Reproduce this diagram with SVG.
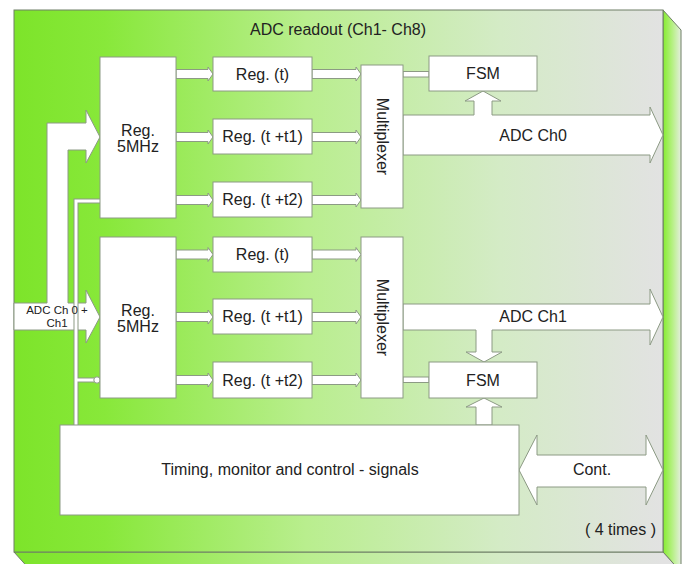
<svg xmlns="http://www.w3.org/2000/svg" width="688" height="564" viewBox="0 0 688 564">
<defs>
<linearGradient id="front" x1="14" y1="0" x2="663" y2="0" gradientUnits="userSpaceOnUse">
<stop offset="0" stop-color="#7de42a"/>
<stop offset="0.14" stop-color="#88e83a"/>
<stop offset="0.45" stop-color="#b9ee8e"/>
<stop offset="0.75" stop-color="#d4ebc6"/>
<stop offset="1" stop-color="#e2e2e2"/>
</linearGradient>
<linearGradient id="side" x1="663" y1="0" x2="681" y2="0" gradientUnits="userSpaceOnUse">
<stop offset="0" stop-color="#86ec30"/>
<stop offset="0.5" stop-color="#b4f080"/>
<stop offset="1" stop-color="#e4eede"/>
</linearGradient>
<style>
.box{fill:#ffffff;stroke:#8c9a84;stroke-width:1}
.band{fill:#ffffff;stroke:#8c9a84;stroke-width:1}
.t{font-family:"Liberation Sans",Arial,sans-serif;font-size:16px;fill:#222222;text-anchor:middle}
.s{font-family:"Liberation Sans",Arial,sans-serif;font-size:11.5px;fill:#222222;text-anchor:middle}
.wireo{fill:none;stroke:#8c9a84;stroke-width:5}
.wirei{fill:none;stroke:#ffffff;stroke-width:3}
</style>
</defs>
<g id="frame">
<polygon points="663,10 681,30 681,572 663,552" fill="url(#side)" stroke="#6f7f66" stroke-width="1"/>
<polygon points="14,552 663,552 681,572 32,572" fill="url(#front)" stroke="#6f7f66" stroke-width="1"/>
<rect x="14" y="10" width="649" height="542" fill="url(#front)" stroke="#6f7f66" stroke-width="1"/>
<text class="t" x="338" y="35">ADC readout (Ch1- Ch8)</text>
<text class="t" x="656" y="535" style="text-anchor:end">( 4 times )</text>
</g>
<g id="connectors">
<path class="band" d="M14,303 H47 V123 H86 V110 L100,137 L86,163 V150 H68 V303 H86 V290 L100,317 L86,343 V330 H14 Z"/>
<path class="wireo" d="M76,425 V201 H100 M76,380 H96"/>
<path class="wirei" d="M76,426 V201 H100 M76,380 H96"/>
<circle cx="97" cy="380" r="3.2" fill="#ffffff" stroke="#8c9a84" stroke-width="1"/>
<path class="band" d="M176,69.5 H208 V67 L213,74 L208,81 V78.5 H176 Z"/>
<path class="band" d="M176,132.5 H208 V130 L213,137 L208,144 V141.5 H176 Z"/>
<path class="band" d="M176,195.5 H208 V193 L213,200 L208,207 V204.5 H176 Z"/>
<path class="band" d="M176,250 H208 V247.5 L213,254.5 L208,261.5 V259 H176 Z"/>
<path class="band" d="M176,312.5 H208 V310 L213,317 L208,324 V321.5 H176 Z"/>
<path class="band" d="M176,375.5 H208 V373 L213,380 L208,387 V384.5 H176 Z"/>
<path class="band" d="M312,69.5 H356 V67 L361,74 L356,81 V78.5 H312 Z"/>
<path class="band" d="M312,132.5 H356 V130 L361,137 L356,144 V141.5 H312 Z"/>
<path class="band" d="M312,195.5 H356 V193 L361,200 L356,207 V204.5 H312 Z"/>
<path class="band" d="M312,250 H356 V247.5 L361,254.5 L356,261.5 V259 H312 Z"/>
<path class="band" d="M312,312.5 H356 V310 L361,317 L356,324 V321.5 H312 Z"/>
<path class="band" d="M312,375.5 H356 V373 L361,380 L356,387 V384.5 H312 Z"/>
<rect class="band" x="403" y="71.5" width="26" height="5.5"/>
<rect class="band" x="403" y="377" width="26" height="5.5"/>
<path class="band" d="M403,115 H474 V101 H465 L483,91 L501,101 H492 V115 H650 V107 L663,135 L650,163 V155 H403 Z"/>
<path class="band" d="M403,304 H650 V289 L663,317 L650,345 V330 H492 V352 H502 L484,362 L466,352 H476 V330 H403 Z"/>
<path class="band" d="M476,425 V407 H466 L484,398 L502,407 H492 V425 Z"/>
<path class="band" d="M519,470 L537,435 V455 H646 V435 L663,470 L646,505 V487 H537 V505 Z"/>
<text class="t" x="533" y="141">ADC Ch0</text>
<text class="t" x="533" y="322">ADC Ch1</text>
<text class="t" x="592" y="475">Cont.</text>
<text class="s" x="57" y="314">ADC Ch 0 +</text>
<text class="s" x="57" y="327">Ch1</text>
</g>
<g id="reg5a"><rect class="box" x="100" y="57" width="76" height="161"/><text class="t" x="138" y="136">Reg.</text><text class="t" x="138" y="152">5MHz</text></g>
<g id="reg5b"><rect class="box" x="100" y="237" width="76" height="161"/><text class="t" x="138" y="316">Reg.</text><text class="t" x="138" y="332">5MHz</text></g>
<g id="reg_a_t"><rect class="box" x="213" y="57" width="99" height="34"/><text class="t" x="262.5" y="79.5">Reg. (t)</text></g>
<g id="reg_a_t1"><rect class="box" x="213" y="119" width="99" height="35"/><text class="t" x="262.5" y="142">Reg. (t +t1)</text></g>
<g id="reg_a_t2"><rect class="box" x="213" y="182" width="99" height="35"/><text class="t" x="262.5" y="205">Reg. (t +t2)</text></g>
<g id="reg_b_t"><rect class="box" x="213" y="237" width="99" height="35"/><text class="t" x="262.5" y="260">Reg. (t)</text></g>
<g id="reg_b_t1"><rect class="box" x="213" y="299" width="99" height="35"/><text class="t" x="262.5" y="322">Reg. (t +t1)</text></g>
<g id="reg_b_t2"><rect class="box" x="213" y="362" width="99" height="36"/><text class="t" x="262.5" y="385.5">Reg. (t +t2)</text></g>
<g id="mux1"><rect class="box" x="361" y="65" width="42" height="143"/><text class="t" x="382" y="142" transform="rotate(90 382 136.5)">Multiplexer</text></g>
<g id="mux2"><rect class="box" x="361" y="237" width="42" height="161"/><text class="t" x="382" y="323" transform="rotate(90 382 317.5)">Multiplexer</text></g>
<g id="fsm1"><rect class="box" x="429" y="56" width="108" height="35"/><text class="t" x="483" y="79">FSM</text></g>
<g id="fsm2"><rect class="box" x="429" y="362" width="108" height="36"/><text class="t" x="483" y="385.5">FSM</text></g>
<g id="timing"><rect class="box" x="60" y="425" width="459" height="90"/><text class="t" x="290" y="475">Timing, monitor and control - signals</text></g>
</svg>
